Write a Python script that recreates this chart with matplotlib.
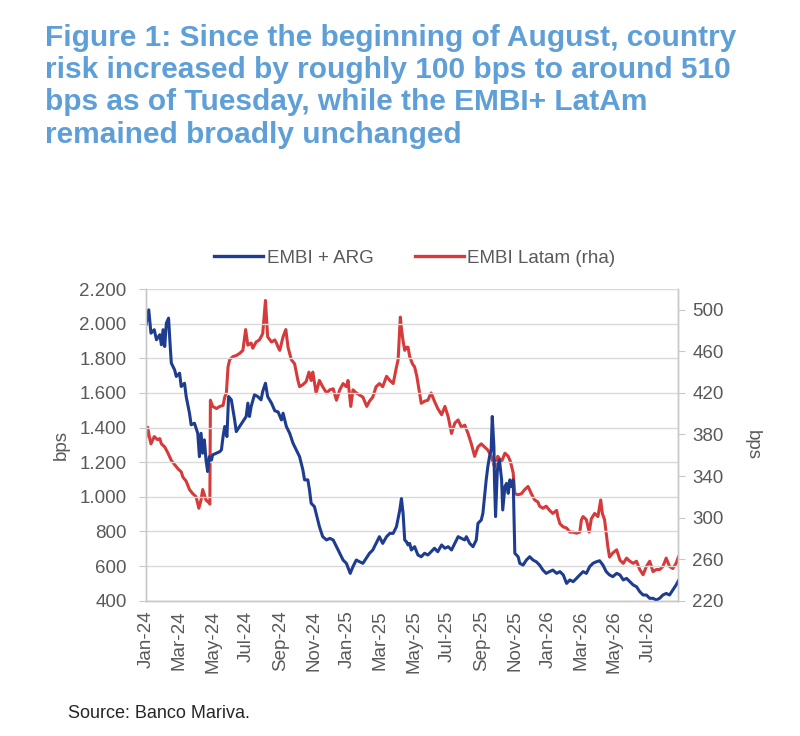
import matplotlib
matplotlib.use("Agg")
import matplotlib.pyplot as plt
import matplotlib.dates as mdates
from matplotlib.ticker import FuncFormatter, FixedLocator
import pandas as pd

plt.rcParams['font.family'] = ['Liberation Sans', 'DejaVu Sans']

title = ("Figure 1: Since the beginning of August, country\n"
         "risk increased by roughly 100 bps to around 510\n"
         "bps as of Tuesday, while the EMBI+ LatAm\n"
         "remained broadly unchanged")
source = "Source: Banco Mariva."
series_names = ["EMBI + ARG", "EMBI Latam (rha)"]

arg_dates = [
    "2024-01-01", "2024-01-06", "2024-01-10", "2024-01-16", "2024-01-20", "2024-01-26", "2024-01-29",
    "2024-02-01", "2024-02-04", "2024-02-07", "2024-02-11", "2024-02-14", "2024-02-16", "2024-02-22",
    "2024-02-25", "2024-03-02", "2024-03-05", "2024-03-11", "2024-03-14", "2024-03-20", "2024-03-23",
    "2024-03-29", "2024-04-04", "2024-04-07", "2024-04-10", "2024-04-13", "2024-04-16", "2024-04-19",
    "2024-04-22", "2024-04-25", "2024-04-29", "2024-05-01", "2024-05-08", "2024-05-14", "2024-05-17",
    "2024-05-20", "2024-05-23", "2024-05-27", "2024-05-30", "2024-06-04", "2024-06-07", "2024-06-10",
    "2024-06-13", "2024-06-19", "2024-06-25", "2024-07-01", "2024-07-04", "2024-07-07", "2024-07-10",
    "2024-07-16", "2024-07-22", "2024-07-28", "2024-07-31", "2024-08-05", "2024-08-09", "2024-08-16",
    "2024-08-22", "2024-08-28", "2024-09-03", "2024-09-06", "2024-09-12", "2024-09-18", "2024-09-24",
    "2024-09-30", "2024-10-06", "2024-10-12", "2024-10-15", "2024-10-21", "2024-10-24", "2024-10-27",
    "2024-11-02", "2024-11-05", "2024-11-11", "2024-11-17", "2024-11-24", "2024-11-30", "2024-12-06",
    "2024-12-12", "2024-12-18", "2024-12-24", "2024-12-30", "2025-01-06", "2025-01-11", "2025-01-17",
    "2025-01-23", "2025-01-29", "2025-02-04", "2025-02-10", "2025-02-16", "2025-02-22", "2025-02-28",
    "2025-03-06", "2025-03-13", "2025-03-19", "2025-03-25", "2025-03-31", "2025-04-06", "2025-04-09",
    "2025-04-12", "2025-04-15", "2025-04-18", "2025-04-21", "2025-04-24", "2025-04-27", "2025-05-03",
    "2025-05-09", "2025-05-15", "2025-05-21", "2025-05-27", "2025-06-02", "2025-06-08", "2025-06-14",
    "2025-06-21", "2025-06-27", "2025-07-03", "2025-07-09", "2025-07-15", "2025-07-21", "2025-07-27",
    "2025-08-02", "2025-08-05", "2025-08-11", "2025-08-17", "2025-08-23", "2025-08-26", "2025-09-01",
    "2025-09-04", "2025-09-07", "2025-09-10", "2025-09-13", "2025-09-16", "2025-09-19", "2025-09-21",
    "2025-09-24", "2025-09-25", "2025-09-27", "2025-09-30", "2025-10-01", "2025-10-04", "2025-10-08",
    "2025-10-10", "2025-10-14", "2025-10-17", "2025-10-20", "2025-10-23", "2025-10-26", "2025-10-29",
    "2025-11-01", "2025-11-07", "2025-11-10", "2025-11-16", "2025-11-22", "2025-11-28", "2025-12-04",
    "2025-12-10", "2025-12-16", "2025-12-22", "2025-12-28", "2026-01-03", "2026-01-09", "2026-01-16",
    "2026-01-22", "2026-01-28", "2026-02-03", "2026-02-09", "2026-02-15", "2026-02-21", "2026-02-27",
    "2026-03-05", "2026-03-11", "2026-03-17", "2026-03-23", "2026-03-29", "2026-04-04", "2026-04-10",
    "2026-04-16", "2026-04-22", "2026-04-28", "2026-05-05", "2026-05-11", "2026-05-17", "2026-05-23",
    "2026-05-29", "2026-06-04", "2026-06-10", "2026-06-16", "2026-06-22", "2026-06-28", "2026-07-04",
    "2026-07-10", "2026-07-16", "2026-07-22", "2026-07-28", "2026-08-03", "2026-08-09", "2026-08-15",
    "2026-08-21", "2026-08-25",
]
arg_values = [
    1994, 2080, 1945, 1965, 1907, 1936, 1878,
    1965, 1868, 2003, 2032, 1868, 1772, 1733,
    1695, 1714, 1637, 1656, 1579, 1483, 1416,
    1425, 1367, 1232, 1367, 1252, 1329, 1213,
    1146, 1232, 1213, 1242, 1252, 1261, 1271,
    1348, 1406, 1348, 1579, 1560, 1502, 1444,
    1377, 1406, 1435, 1464, 1541, 1464, 1521,
    1589, 1579, 1560, 1608, 1656, 1579, 1541,
    1497, 1490, 1444, 1483, 1406, 1367, 1310,
    1271, 1232, 1155, 1098, 1098, 1040, 963,
    943, 905, 828, 770, 751, 760, 751,
    712, 674, 635, 616, 558, 597, 635,
    625, 616, 645, 674, 693, 731, 770,
    731, 770, 789, 789, 828, 924, 990,
    905, 750, 741, 722, 731, 693, 712,
    664, 654, 674, 664, 683, 703, 683,
    722, 703, 712, 693, 731, 770, 760,
    751, 770, 731, 712, 751, 847, 866,
    905, 1001, 1098, 1175, 1232, 1271, 1464,
    1290, 1098, 886, 1136, 1175, 1213, 1098,
    924, 1059, 1078, 1020, 1098, 1059, 1098,
    674, 654, 616, 606, 635, 654, 635,
    625, 606, 577, 558, 568, 577, 558,
    568, 549, 500, 520, 510, 529, 549,
    568, 558, 597, 616, 625, 631, 606,
    568, 549, 539, 558, 549, 520, 529,
    510, 491, 481, 452, 433, 433, 414,
    414, 404, 414, 433, 442, 433, 462,
    491, 515,
]

latam_dates = [
    "2024-01-01", "2024-01-04", "2024-01-07", "2024-01-10", "2024-01-16", "2024-01-22", "2024-01-26",
    "2024-01-29", "2024-02-04", "2024-02-10", "2024-02-16", "2024-02-22", "2024-02-28", "2024-03-05",
    "2024-03-08", "2024-03-14", "2024-03-20", "2024-03-26", "2024-04-01", "2024-04-06", "2024-04-10",
    "2024-04-13", "2024-04-19", "2024-04-25", "2024-04-26", "2024-04-27", "2024-05-01", "2024-05-08",
    "2024-05-14", "2024-05-20", "2024-05-23", "2024-05-26", "2024-05-29", "2024-06-01", "2024-06-07",
    "2024-06-13", "2024-06-19", "2024-06-25", "2024-06-30", "2024-07-04", "2024-07-10", "2024-07-13",
    "2024-07-19", "2024-07-25", "2024-07-31", "2024-08-05", "2024-08-09", "2024-08-16", "2024-08-22",
    "2024-08-25", "2024-08-28", "2024-08-31", "2024-09-06", "2024-09-11", "2024-09-15", "2024-09-21",
    "2024-09-27", "2024-10-03", "2024-10-06", "2024-10-12", "2024-10-18", "2024-10-23", "2024-10-27",
    "2024-10-30", "2024-11-05", "2024-11-11", "2024-11-17", "2024-11-24", "2024-11-30", "2024-12-06",
    "2024-12-12", "2024-12-18", "2024-12-24", "2024-12-30", "2025-01-02", "2025-01-07", "2025-01-11",
    "2025-01-17", "2025-01-23", "2025-01-29", "2025-02-05", "2025-02-10", "2025-02-16", "2025-02-22",
    "2025-02-28", "2025-03-06", "2025-03-13", "2025-03-19", "2025-03-25", "2025-03-31", "2025-04-03",
    "2025-04-07", "2025-04-09", "2025-04-12", "2025-04-15", "2025-04-18", "2025-04-21", "2025-04-24",
    "2025-04-29", "2025-05-03", "2025-05-07", "2025-05-12", "2025-05-15", "2025-05-21", "2025-05-27",
    "2025-06-02", "2025-06-08", "2025-06-14", "2025-06-21", "2025-06-27", "2025-07-03", "2025-07-09",
    "2025-07-15", "2025-07-21", "2025-07-27", "2025-08-02", "2025-08-08", "2025-08-14", "2025-08-20",
    "2025-08-26", "2025-09-01", "2025-09-07", "2025-09-13", "2025-09-19", "2025-09-25", "2025-10-01",
    "2025-10-08", "2025-10-14", "2025-10-20", "2025-10-24", "2025-10-29", "2025-11-01", "2025-11-07",
    "2025-11-13", "2025-11-19", "2025-11-25", "2025-12-01", "2025-12-07", "2025-12-13", "2025-12-16",
    "2025-12-22", "2025-12-28", "2026-01-03", "2026-01-09", "2026-01-16", "2026-01-18", "2026-01-22",
    "2026-01-28", "2026-02-03", "2026-02-09", "2026-02-15", "2026-02-21", "2026-02-27", "2026-03-02",
    "2026-03-05", "2026-03-11", "2026-03-16", "2026-03-20", "2026-03-26", "2026-04-01", "2026-04-06",
    "2026-04-09", "2026-04-13", "2026-04-16", "2026-04-19", "2026-04-22", "2026-04-28", "2026-05-05",
    "2026-05-11", "2026-05-17", "2026-05-23", "2026-05-29", "2026-06-04", "2026-06-10", "2026-06-16",
    "2026-06-22", "2026-06-28", "2026-07-04", "2026-07-10", "2026-07-16", "2026-07-22", "2026-07-28",
    "2026-08-03", "2026-08-09", "2026-08-15", "2026-08-21", "2026-08-25",
]
latam_values = [
    378, 387, 378, 371, 378, 375, 376,
    371, 368, 362, 355, 351, 347, 344,
    339, 335, 327, 323, 320, 309, 317,
    327, 317, 314, 313, 413, 407, 405,
    407, 408, 416, 420, 445, 452, 455,
    456, 458, 461, 481, 466, 468, 463,
    469, 471, 477, 509, 474, 469, 471,
    468, 464, 461, 474, 481, 464, 452,
    448, 432, 426, 428, 431, 440, 432,
    440, 420, 432, 426, 420, 423, 424,
    413, 423, 429, 426, 432, 407, 423,
    420, 418, 416, 407, 412, 416, 426,
    429, 426, 436, 432, 429, 445, 452,
    493, 482, 470, 461, 464, 464, 455,
    448, 445, 436, 420, 410, 412, 413,
    420, 412, 405, 399, 407, 397, 381,
    391, 394, 387, 389, 381, 371, 359,
    368, 371, 368, 365, 359, 349, 359,
    354, 362, 359, 354, 343, 323, 322,
    323, 327, 330, 323, 317, 315, 311,
    309, 311, 307, 304, 307, 301, 294,
    291, 290, 286, 286, 285, 286, 298,
    301, 298, 286, 299, 304, 301, 317,
    304, 298, 285, 272, 262, 266, 269,
    259, 256, 261, 258, 256, 258, 250,
    245, 253, 258, 248, 250, 250, 253,
    261, 253, 251, 256, 262,
]

left_ticks = [400, 600, 800, 1000, 1200, 1400, 1600, 1800, 2000, 2200]
right_ticks = [220, 260, 300, 340, 380, 420, 460, 500]

BLUE = "#1f3d8f"
RED = "#d63a3a"
TXT = "#595959"
GRID = "#d9d9d9"
FS = 13.5

arg_x = pd.to_datetime(arg_dates)
latam_x = pd.to_datetime(latam_dates)

fig = plt.figure(figsize=(8, 7.36), dpi=100)
ax = fig.add_axes([0.1825, 0.1838, 0.6654, 0.4235])
ax2 = ax.twinx()

ax2.plot(latam_x, latam_values, color=RED, lw=2.2, solid_joinstyle='round')
ax.plot(arg_x, arg_values, color=BLUE, lw=2.2, solid_joinstyle='round')
ax.set_zorder(ax2.get_zorder() + 1)
ax.patch.set_visible(False)

ax.set_ylim(400, 2200)
ax2.set_ylim(220, 520)
ax.set_xlim(pd.Timestamp("2024-01-01"), pd.Timestamp("2026-08-25"))

ax.yaxis.set_major_locator(FixedLocator(left_ticks))
ax.yaxis.set_major_formatter(FuncFormatter(lambda v, p: f"{int(v):,}".replace(",", ".")))
ax2.yaxis.set_major_locator(FixedLocator(right_ticks))

ax.xaxis.set_major_locator(mdates.MonthLocator(bymonth=[1, 3, 5, 7, 9, 11]))
ax.xaxis.set_major_formatter(mdates.DateFormatter("%b-%y"))
for lbl in ax.get_xticklabels():
    lbl.set_rotation(90)

ax.grid(axis='y', color=GRID, lw=1.0)
ax.set_axisbelow(True)
for a in (ax, ax2):
    for s in a.spines.values():
        s.set_color("#c8c8c8")
        s.set_linewidth(1.0)
    a.spines['top'].set_visible(False)
ax.tick_params(axis='y', labelsize=FS, colors=TXT, length=5, width=0.8, color="#c8c8c8", pad=9)
ax2.tick_params(axis='y', labelsize=FS, colors=TXT, length=5, width=0.8, color="#c8c8c8", pad=5)
ax.tick_params(axis='x', labelsize=FS, colors=TXT, length=0, pad=7)

ax.set_ylabel("bps", fontsize=FS, color=TXT)
ax2.set_ylabel("bps", fontsize=FS, color=TXT, rotation=270, va='center')
ax.yaxis.set_label_coords(-0.143, 0.5)
ax2.yaxis.set_label_coords(1.139, 0.5)

fig.text(45 / 800, 1 - 24 / 736, title, fontsize=21.5, fontweight='bold', color="#5f9fd8",
         va='top', ha='left', linespacing=1.19)

handles = [plt.Line2D([], [], color=BLUE, lw=2.4), plt.Line2D([], [], color=RED, lw=2.4)]
fig.legend(handles, series_names, loc='center', bbox_to_anchor=(415 / 800, 1 - 258 / 736), ncol=2,
           frameon=False, fontsize=FS, labelcolor=TXT, handlelength=2.6, handletextpad=0.2,
           columnspacing=2.2)

fig.text(68 / 800, 1 - 713 / 736, source, fontsize=13, color="#262626", va='center', ha='left')

fig.savefig("out.png", dpi=100, facecolor="white")
